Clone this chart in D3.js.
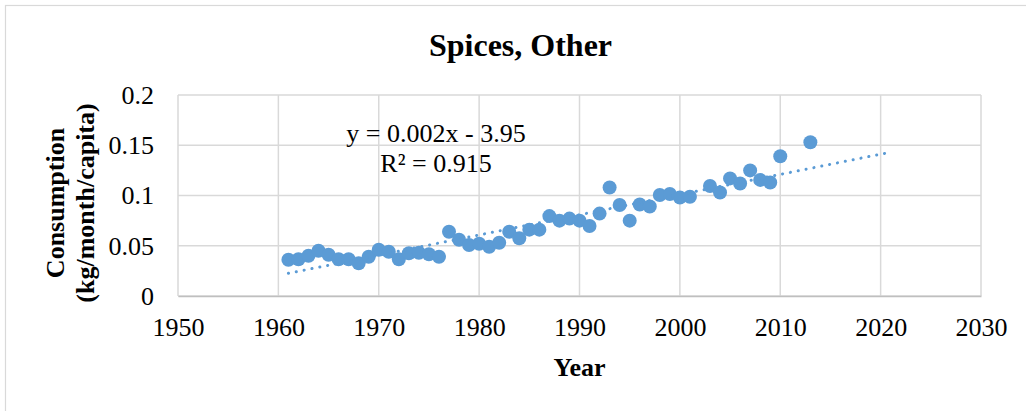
<!DOCTYPE html>
<html>
<head>
<meta charset="utf-8">
<script src="https://cdn.jsdelivr.net/npm/d3@7"></script>
<style>
  html, body { margin: 0; padding: 0; background: #fff; }
  svg { display: block; font-family: "Liberation Serif", "Times New Roman", serif; }
</style>
</head>
<body>
<svg id="chart" width="1026" height="411"></svg>
<script>
// Per-capita consumption of "Spices, Other" by year
const years = [1961, 1962, 1963, 1964, 1965, 1966, 1967, 1968, 1969, 1970,
               1971, 1972, 1973, 1974, 1975, 1976, 1977, 1978, 1979, 1980,
               1981, 1982, 1983, 1984, 1985, 1986, 1987, 1988, 1989, 1990,
               1991, 1992, 1993, 1994, 1995, 1996, 1997, 1998, 1999, 2000,
               2001, 2003, 2004, 2005, 2006, 2007, 2008, 2009, 2010, 2013];
const consumption = [0.036, 0.0365, 0.040, 0.045, 0.041, 0.0365, 0.0365, 0.0325, 0.039, 0.046,
                     0.044, 0.0365, 0.0425, 0.043, 0.0415, 0.039, 0.064, 0.056, 0.0507, 0.052,
                     0.049, 0.053, 0.064, 0.0575, 0.066, 0.066, 0.0795, 0.075, 0.077, 0.075,
                     0.0697, 0.082, 0.108, 0.0905, 0.075, 0.091, 0.089, 0.1005, 0.1015, 0.098,
                     0.0988, 0.1095, 0.103, 0.117, 0.112, 0.125, 0.1155, 0.113, 0.139, 0.153];
const xTicks = [1950, 1960, 1970, 1980, 1990, 2000, 2010, 2020, 2030];
const yTicks = [0, 0.05, 0.1, 0.15, 0.2];
const yTickLabels = ["0", "0.05", "0.1", "0.15", "0.2"];
const forecastYears = 8;
const equationLines = ["y = 0.002x - 3.95", "R\u00b2 = 0.915"];

const svg = d3.select("#chart");
const W = 1026, H = 411;
const plot = { left: 178, right: 981, top: 95, bottom: 296 };
const blue = "#5B9BD5";
const grid = "#D9D9D9";

// outer chart frame
svg.append("rect")
  .attr("x", 5.5).attr("y", 5.5)
  .attr("width", W + 10).attr("height", H + 10)
  .attr("fill", "#fff").attr("stroke", grid).attr("stroke-width", 1.2);

const x = d3.scaleLinear().domain([1950, 2030]).range([plot.left, plot.right]);
const y = d3.scaleLinear().domain([0, 0.2]).range([plot.bottom, plot.top]);

// gridlines
const g = svg.append("g");
g.selectAll("line.vg").data(xTicks).join("line")
  .attr("x1", d => x(d)).attr("x2", d => x(d))
  .attr("y1", plot.top).attr("y2", plot.bottom)
  .attr("stroke", grid).attr("stroke-width", 1.5);
g.selectAll("line.hg").data(yTicks).join("line")
  .attr("x1", plot.left).attr("x2", plot.right)
  .attr("y1", d => y(d)).attr("y2", d => y(d))
  .attr("stroke", grid).attr("stroke-width", 1.5);

// axes
const xAxis = svg.append("g")
  .attr("transform", `translate(0,${plot.bottom})`)
  .call(d3.axisBottom(x).tickValues(xTicks).tickFormat(d3.format("d")).tickSize(0).tickPadding(22));
xAxis.select(".domain").attr("stroke", "#BFBFBF").attr("stroke-width", 1.5);
xAxis.selectAll("text").attr("font-size", 26).attr("fill", "#000")
  .attr("font-family", "Liberation Serif");

const yAxis = svg.append("g")
  .attr("transform", `translate(${plot.left},0)`)
  .call(d3.axisLeft(y).tickValues(yTicks).tickFormat((d, i) => yTickLabels[i]).tickSize(0).tickPadding(24));
yAxis.select(".domain").remove();
yAxis.selectAll("text").attr("font-size", 26).attr("fill", "#000")
  .attr("font-family", "Liberation Serif");

// least-squares linear trend, extended forward
const n = years.length;
const mx = d3.mean(years), my = d3.mean(consumption);
let sxy = 0, sxx = 0;
for (let i = 0; i < n; i++) {
  sxy += (years[i] - mx) * (consumption[i] - my);
  sxx += (years[i] - mx) ** 2;
}
const slope = sxy / sxx;
const intercept = my - slope * mx;
const x0 = d3.min(years), x1 = d3.max(years) + forecastYears;

// data markers
svg.append("g").selectAll("circle").data(years).join("circle")
  .attr("cx", d => x(d))
  .attr("cy", (d, i) => y(consumption[i]))
  .attr("r", 7)
  .attr("fill", blue);

svg.append("line")
  .attr("x1", x(x0)).attr("y1", y(slope * x0 + intercept))
  .attr("x2", x(x1)).attr("y2", y(slope * x1 + intercept))
  .attr("stroke", blue).attr("stroke-width", 3)
  .attr("stroke-linecap", "round")
  .attr("stroke-dasharray", "0.1 7.9");

// trend equation
svg.append("g").selectAll("text").data(equationLines).join("text")
  .attr("x", 436).attr("y", (d, i) => 142 + i * 30)
  .attr("text-anchor", "middle")
  .attr("font-size", 26)
  .text(d => d);

// title
svg.append("text")
  .attr("x", (plot.left + plot.right) / 2 - 59).attr("y", 56)
  .attr("text-anchor", "middle")
  .attr("font-size", 32).attr("font-weight", "bold")
  .text("Spices, Other");

// axis titles
svg.append("text")
  .attr("x", (plot.left + plot.right) / 2).attr("y", 376)
  .attr("text-anchor", "middle")
  .attr("font-size", 26).attr("font-weight", "bold")
  .text("Year");

const yTitle = svg.append("text")
  .attr("transform", "translate(64,203) rotate(-90)")
  .attr("text-anchor", "middle")
  .attr("font-size", 26).attr("font-weight", "bold");
yTitle.append("tspan").attr("x", 0).attr("y", 0).text("Consumption");
yTitle.append("tspan").attr("x", 0).attr("y", 30).text("(kg/month/capita)");
</script>
</body>
</html>
